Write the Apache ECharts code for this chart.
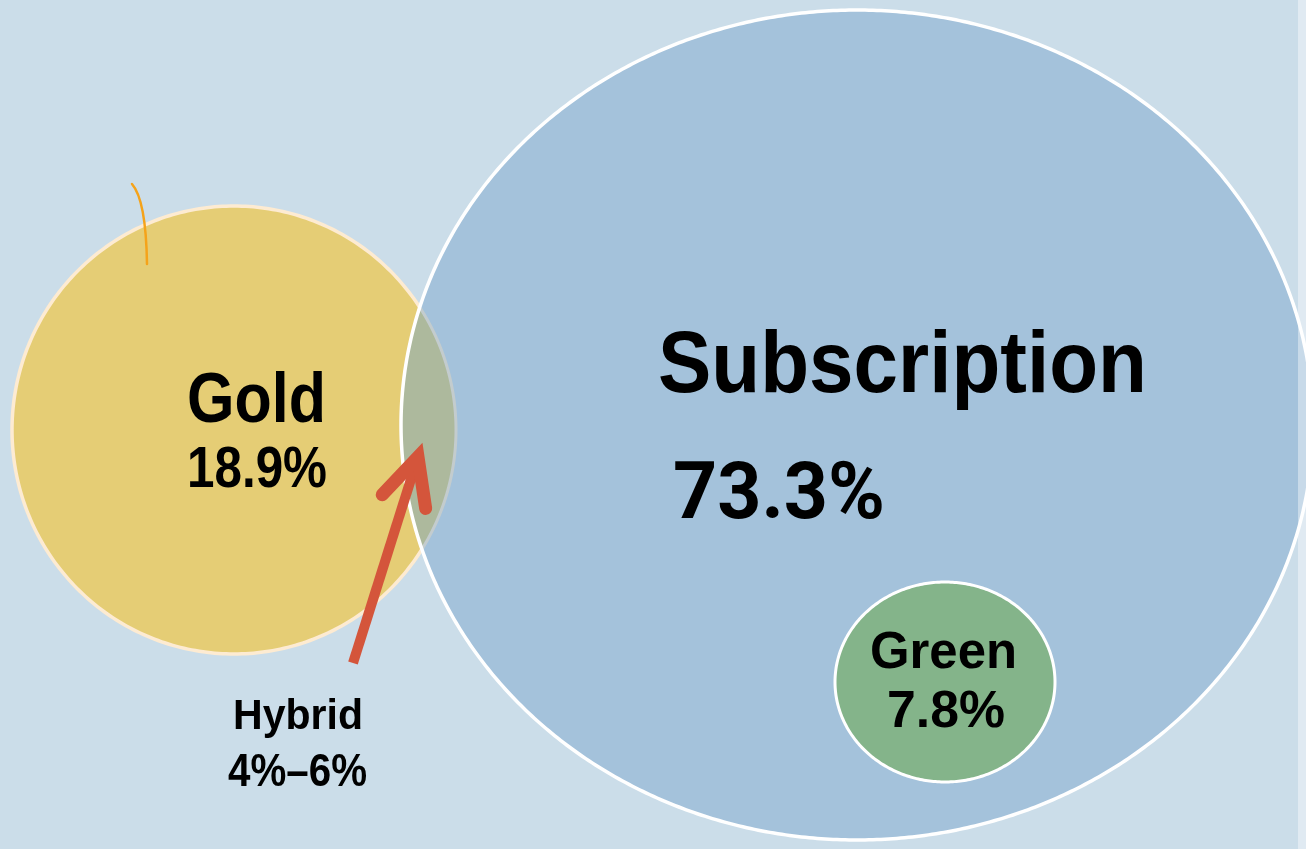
<!DOCTYPE html>
<html>
<head>
<meta charset="utf-8">
<script src="https://cdn.jsdelivr.net/npm/echarts@6/dist/echarts.min.js"></script>
<style>
html,body{margin:0;padding:0;background:#cbdde9;}
#chart{width:1306px;height:849px;}
</style>
</head>
<body>
<div id="chart"></div>
<script>
// ---- data ----
const names = ['Gold', 'Subscription', 'Green', 'Hybrid'];
const sharePct = [18.9, 73.3, 7.8, null];
const hybridRangePct = [4, 6];

// ---- layout / style (pixel space of the 1306x849 canvas) ----
const W = 1306, H = 849;
const layout = {
  Gold: {
    shape: {cx: 234, cy: 430, rx: 222, ry: 224},
    fill: '#e5cd75', stroke: '#fdebd2', lw: 3.5,
    name: {cx: 256.5, cy: 400, w: 139, h: 50},
    value: {cx: 257, cy: 468.5, w: 140, h: 41}
  },
  Subscription: {
    shape: {cx: 857, cy: 425, rx: 456, ry: 415},
    fill: '#a4c2db', stroke: '#ffffff', lw: 3.5,
    lensFill: '#adb99d', lensStroke: '#c3ccce',
    name: {cx: 902.5, cy: 364.5, w: 489, h: 63},
    value: {cx: 779, cy: 495, w: 212, h: 56, family: 'Roboto', weight: 'bold'}
  },
  Green: {
    shape: {cx: 945, cy: 682, rx: 110, ry: 100},
    fill: '#84b48a', stroke: '#ffffff', lw: 3,
    name: {cx: 943.5, cy: 651.5, w: 147, h: 37},
    value: {cx: 946, cy: 710.5, w: 118, h: 37}
  },
  Hybrid: {
    name: {cx: 298, cy: 715.5, w: 130, h: 31},
    value: {cx: 297.5, cy: 771.5, w: 139, h: 33},
    arrow: {tail: [353, 663], tip: [418, 457], head: 52, angle: 26, color: '#d4553b'}
  }
};
const stray = {p0: [132, 184], cp: [146, 200], p1: [147, 264], color: '#f5a31a'};

function fmtShare(i) {
  if (names[i] === 'Hybrid') return hybridRangePct[0] + '%\u2013' + hybridRangePct[1] + '%';
  return sharePct[i].toFixed(1) + '%';
}

const mctx = document.createElement('canvas').getContext('2d');
function textEl(api, str, spec) {
  const family = spec.family || 'Liberation Sans';
  const weight = spec.weight || 'bold';
  const capRatio = family === 'Roboto' ? 0.711 : 0.716;
  const fs = spec.h / capRatio;
  mctx.font = weight + ' ' + fs + 'px "' + family + '"';
  const mw = mctx.measureText(str).width;
  const p = api.coord([spec.cx, spec.cy + 0.04 * fs]);
  return {
    type: 'text', x: p[0], y: p[1], scaleX: spec.w / mw, scaleY: 1,
    style: {text: str, fontSize: fs, fontFamily: family, fontWeight: weight,
            fill: '#000', align: 'center', verticalAlign: 'middle'}
  };
}

function ellipsePts(api, s, n) {
  const pts = [];
  for (let k = 0; k < n; k++) {
    const t = k / n * Math.PI * 2;
    pts.push(api.coord([s.cx + s.rx * Math.cos(t), s.cy + s.ry * Math.sin(t)]));
  }
  return pts;
}
function inside(s, x, y) {
  const dx = (x - s.cx) / s.rx, dy = (y - s.cy) / s.ry;
  return dx * dx + dy * dy <= 1;
}

function renderItem(params, api) {
  const idx = api.value(0);
  const name = names[idx];
  const L = layout[name];
  const children = [];
  if (name === 'Gold' || name === 'Green') {
    children.push({type: 'polygon', shape: {points: ellipsePts(api, L.shape, 360)},
      style: {fill: L.fill, stroke: L.stroke, lineWidth: L.lw}});
    if (name === 'Gold') {
      const a = api.coord(stray.p0), c = api.coord(stray.cp), b = api.coord(stray.p1);
      children.push({type: 'bezierCurve',
        shape: {x1: a[0], y1: a[1], cpx1: c[0], cpy1: c[1], x2: b[0], y2: b[1]},
        style: {stroke: stray.color, lineWidth: 2.5, fill: null, lineCap: 'round'}});
    }
  } else if (name === 'Subscription') {
    const S = L.shape, G = layout.Gold.shape;
    const pts = ellipsePts(api, S, 720);
    children.push({type: 'polygon', shape: {points: pts}, style: {fill: L.fill}});
    // lens = overlap of Gold circle and Subscription ellipse
    const arcG = [], arcS = [];
    const N = 1440;
    for (let k = 0; k <= N; k++) {
      const t = -Math.PI + k / N * 2 * Math.PI;
      const x = G.cx + G.rx * Math.cos(t), y = G.cy + G.ry * Math.sin(t);
      if (inside(S, x, y)) arcG.push(api.coord([x, y]));
    }
    for (let k = 0; k <= N; k++) {
      const t = k / N * 2 * Math.PI;
      const x = S.cx + S.rx * Math.cos(t), y = S.cy + S.ry * Math.sin(t);
      if (inside(G, x, y)) arcS.push(api.coord([x, y]));
    }
    children.push({type: 'polygon', shape: {points: arcG.concat(arcS)}, style: {fill: L.lensFill}});
    children.push({type: 'polyline', shape: {points: arcG}, style: {stroke: L.lensStroke, lineWidth: 3, fill: null}});
    children.push({type: 'polygon', shape: {points: pts}, style: {fill: null, stroke: L.stroke, lineWidth: L.lw}});
    const r0 = api.coord([1298, 0]), r1 = api.coord([W, H]);
    children.push({type: 'rect', shape: {x: r0[0], y: r0[1], width: r1[0] - r0[0], height: r1[1] - r0[1]},
      style: {fill: 'rgba(255,255,255,0.4)'}});
  } else if (name === 'Hybrid') {
    const A = L.arrow;
    const tail = api.coord(A.tail), tip = api.coord(A.tip);
    const dx = tail[0] - tip[0], dy = tail[1] - tip[1];
    const len = Math.sqrt(dx * dx + dy * dy);
    const ux = dx / len, uy = dy / len;
    const ang = A.angle * Math.PI / 180;
    const rot = (a) => [ux * Math.cos(a) - uy * Math.sin(a), ux * Math.sin(a) + uy * Math.cos(a)];
    const w1 = rot(ang), w2 = rot(-ang);
    const sEnd = [tip[0] + ux * 14, tip[1] + uy * 14];
    children.push({type: 'line', shape: {x1: tail[0], y1: tail[1], x2: sEnd[0], y2: sEnd[1]},
      style: {stroke: A.color, lineWidth: 10, lineCap: 'butt'}});
    children.push({type: 'polyline', shape: {points: [
      [tip[0] + w1[0] * A.head, tip[1] + w1[1] * A.head], tip,
      [tip[0] + w2[0] * A.head, tip[1] + w2[1] * A.head]]},
      style: {stroke: A.color, lineWidth: 13, lineCap: 'round', lineJoin: 'miter', miterLimit: 10, fill: null}});
  }
  children.push(textEl(api, name, L.name));
  children.push(textEl(api, fmtShare(idx), L.value));
  return {type: 'group', children: children};
}

const chart = echarts.init(document.getElementById('chart'), null, {renderer: 'canvas'});
chart.setOption({
  backgroundColor: '#cbdde9',
  animation: false,
  grid: {left: 0, right: 0, top: 0, bottom: 0},
  xAxis: {type: 'value', min: 0, max: W, show: false},
  yAxis: {type: 'value', min: 0, max: H, inverse: true, show: false},
  series: [{
    type: 'custom',
    silent: true,
    clip: false,
    renderItem: renderItem,
    encode: {x: 0, y: 0},
    data: names.map((n, i) => [i])
  }]
});
</script>
</body>
</html>
